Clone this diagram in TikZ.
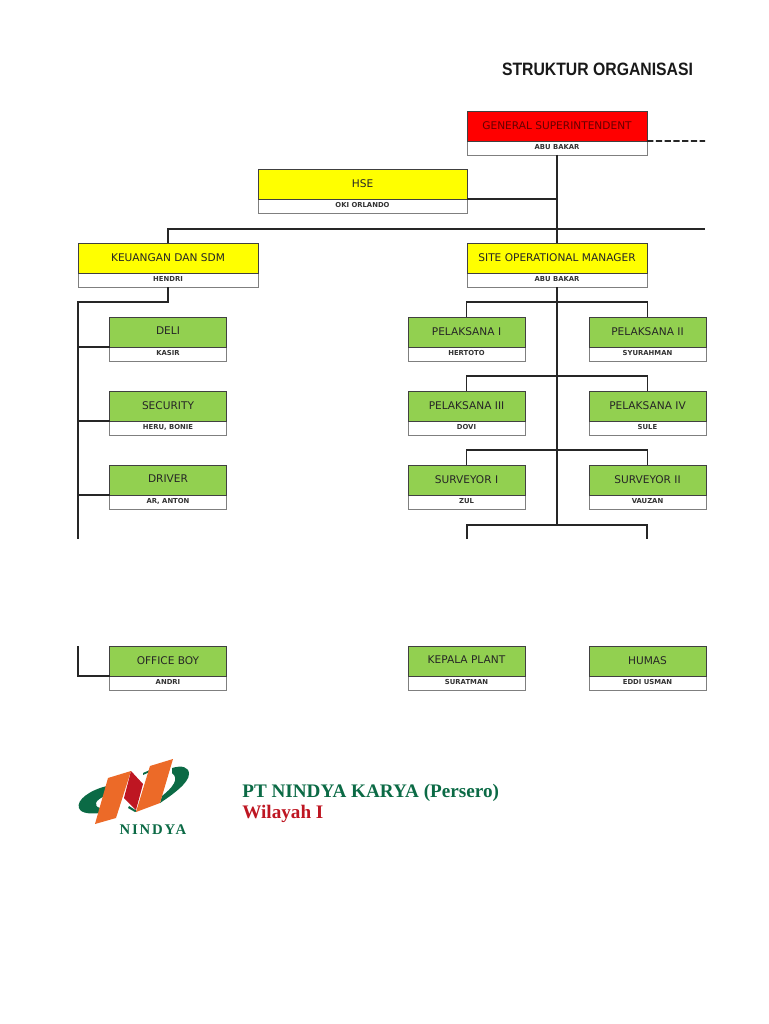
\documentclass[tikz,border=0pt]{standalone}
\usepackage{fontspec}
\setmainfont{DejaVu Sans}
\newfontfamily\titlefont{Liberation Sans}[FakeStretch=0.88]
\newfontfamily\serifbold{Liberation Serif}
\newfontfamily\logofont{Liberation Serif}[LetterSpace=12.0]
\usetikzlibrary{positioning}
\definecolor{boxgreen}{HTML}{92D050}
\definecolor{boxyellow}{HTML}{FFFF00}
\definecolor{boxred}{HTML}{FF0000}
\definecolor{nindyagreen}{HTML}{0B6A45}
\definecolor{nindyared}{HTML}{BE1622}
\definecolor{nindyaorange}{HTML}{EC6A28}
\definecolor{edgegray}{HTML}{7F7F7F}
\tikzset{
    jobbox/.style={draw=black!75, line width=0.5pt, inner sep=0pt, outer sep=0pt, minimum height=0.6cm, text depth=1pt, font=\fontsize{6.03}{7}\selectfont, text=black!85, above=0pt of #1},
    namebox/.style={draw=edgegray, line width=0.5pt, fill=white, inner sep=0pt, outer sep=0pt, minimum height=0.28cm, text depth=1pt, font=\fontsize{3.9}{5}\selectfont\bfseries, text=black!80},
    link/.style={black!85, line width=0.95pt},
    branch/.style={black!85, line width=1.05pt},
}
\begin{document}
\begin{tikzpicture}[x=0.02cm, y=-0.02cm]
    \useasboundingbox (0,0) rectangle (768,1024);

    % title
    \node[font=\fontsize{10.2}{13}\titlefont\bfseries, text=black!90] (title) at (597.5,69.5) {STRUKTUR ORGANISASI};

    % top boxes
    \node[namebox, minimum width=3.6cm] (gsname) at (557,148) {ABU BAKAR};
    \node[jobbox=gsname.north, fill=boxred, text=black!60!red, minimum width=3.6cm] (gs) {GENERAL SUPERINTENDENT};
    \node[namebox, minimum width=4.18cm] (hsename) at (362.5,206) {OKI ORLANDO};
    \node[jobbox=hsename.north, fill=boxyellow, minimum width=4.18cm] (hse) {HSE};
    \node[namebox, minimum width=3.6cm] (keuname) at (168,280) {HENDRI};
    \node[jobbox=keuname.north, fill=boxyellow, minimum width=3.6cm] (keu) {KEUANGAN DAN SDM};
    \node[namebox, minimum width=3.6cm] (somname) at (557,280) {ABU BAKAR};
    \node[jobbox=somname.north, fill=boxyellow, minimum width=3.6cm] (som) {SITE OPERATIONAL MANAGER};

    % green boxes
    \foreach \id/\x/\y/\job/\who in {
        deli/168/354/DELI/KASIR,
        security/168/428/SECURITY/{HERU, BONIE},
        driver/168/502/DRIVER/{AR, ANTON},
        officeboy/168/683/OFFICE BOY/ANDRI,
        pelsatu/466.5/354/PELAKSANA I/HERTOTO,
        peldua/647.5/354/PELAKSANA II/SYURAHMAN,
        peltiga/466.5/428/PELAKSANA III/DOVI,
        pelempat/647.5/428/PELAKSANA IV/SULE,
        sursatu/466.5/502/SURVEYOR I/ZUL,
        surdua/647.5/502/SURVEYOR II/VAUZAN,
        plant/466.5/683/KEPALA PLANT/SURATMAN,
        humas/647.5/683/HUMAS/EDDI USMAN} {
        \node[namebox, minimum width=2.34cm] (\id name) at (\x,\y) {\who};
        \node[jobbox=\id name.north, fill=boxgreen, minimum width=2.34cm] (\id) {\job};
    }

    % free ends of the lines
    \coordinate (dashend) at (705,141);
    \coordinate (railend) at (705,229);
    \coordinate (trunkend) at (557,525);
    \coordinate (leftknee) at (78,302);
    \coordinate (leftend) at (78,539);
    \coordinate (leftstart) at (78,646);
    \coordinate (plantdrop) at (467,539);
    \coordinate (humasdrop) at (647,539);

    % links top
    \draw[link] (gsname.south) -- (som.north);
    \draw[link, dash pattern=on 3.6pt off 1.4pt] (gs.south east) -- (dashend);
    \draw[branch] (hse.south east) -- (hse.south east -| gsname.south);
    \draw[link] (keu.north) |- (railend);

    % left side
    \draw[link] (keuname.south) |- (leftknee) -- (leftend);
    \draw[branch] (leftstart) |- (officeboy.south west);
    \foreach \id in {deli, security, driver}
        \draw[branch] (\id.south west) -- (\id.south west -| leftend);

    % right side
    \draw[link] (somname.south) -- (trunkend);
    \draw[branch] (pelsatu.north) |- (somname.south |- leftknee) -| (peldua.north);
    \draw[branch] (peltiga.north) -- ++(0,-15) -| (pelempat.north);
    \draw[branch] (sursatu.north) -- ++(0,-15) -| (surdua.north);
    \draw[link] (plantdrop) |- (trunkend) -| (humasdrop);

    % logo
    \fill[nindyagreen] (107,786) .. controls (90,790) and (76,800) .. (79,808)
        .. controls (81,814) and (92,814) .. (100,813)
        -- (100,808) .. controls (93,806) and (95,800) .. (105,796) -- cycle;
    \fill[nindyagreen] (172,768) .. controls (182,765) and (189,767) .. (189,774)
        .. controls (189,783) and (172,795) .. (160,803)
        -- (162,796) .. controls (172,788) and (180,779) .. (172,773) -- cycle;
    \fill[nindyagreen] (143,773) -- (151,769.5) -- (151,771.5) -- (143,775) -- cycle;
    \fill[nindyagreen] (129,806) -- (137,811) -- (135,812) -- (128,808) -- cycle;
    \fill[nindyaorange] (108,778) -- (131,771) -- (116,818) -- (95,824) -- cycle;
    \fill[nindyaorange] (150,766) -- (173,759) -- (160,803) -- (136,812) -- cycle;
    \fill[nindyared] (131,771) -- (143,784) -- (136,810) -- (124,798) -- cycle;
    \node[font=\fontsize{8.4}{9}\logofont\bfseries, text=nindyagreen] (logotext) at (153,830) {NINDYA};

    % company
    \node[font=\fontsize{10.9}{12}\serifbold\bfseries, text=nindyagreen, anchor=west, inner sep=0pt] (company) at (242,792.5) {PT NINDYA KARYA (Persero)};
    \node[font=\fontsize{10.9}{12}\serifbold\bfseries, text=nindyared, anchor=west, inner sep=0pt] (region) at (242,813.5) {Wilayah I};
\end{tikzpicture}
\end{document}
